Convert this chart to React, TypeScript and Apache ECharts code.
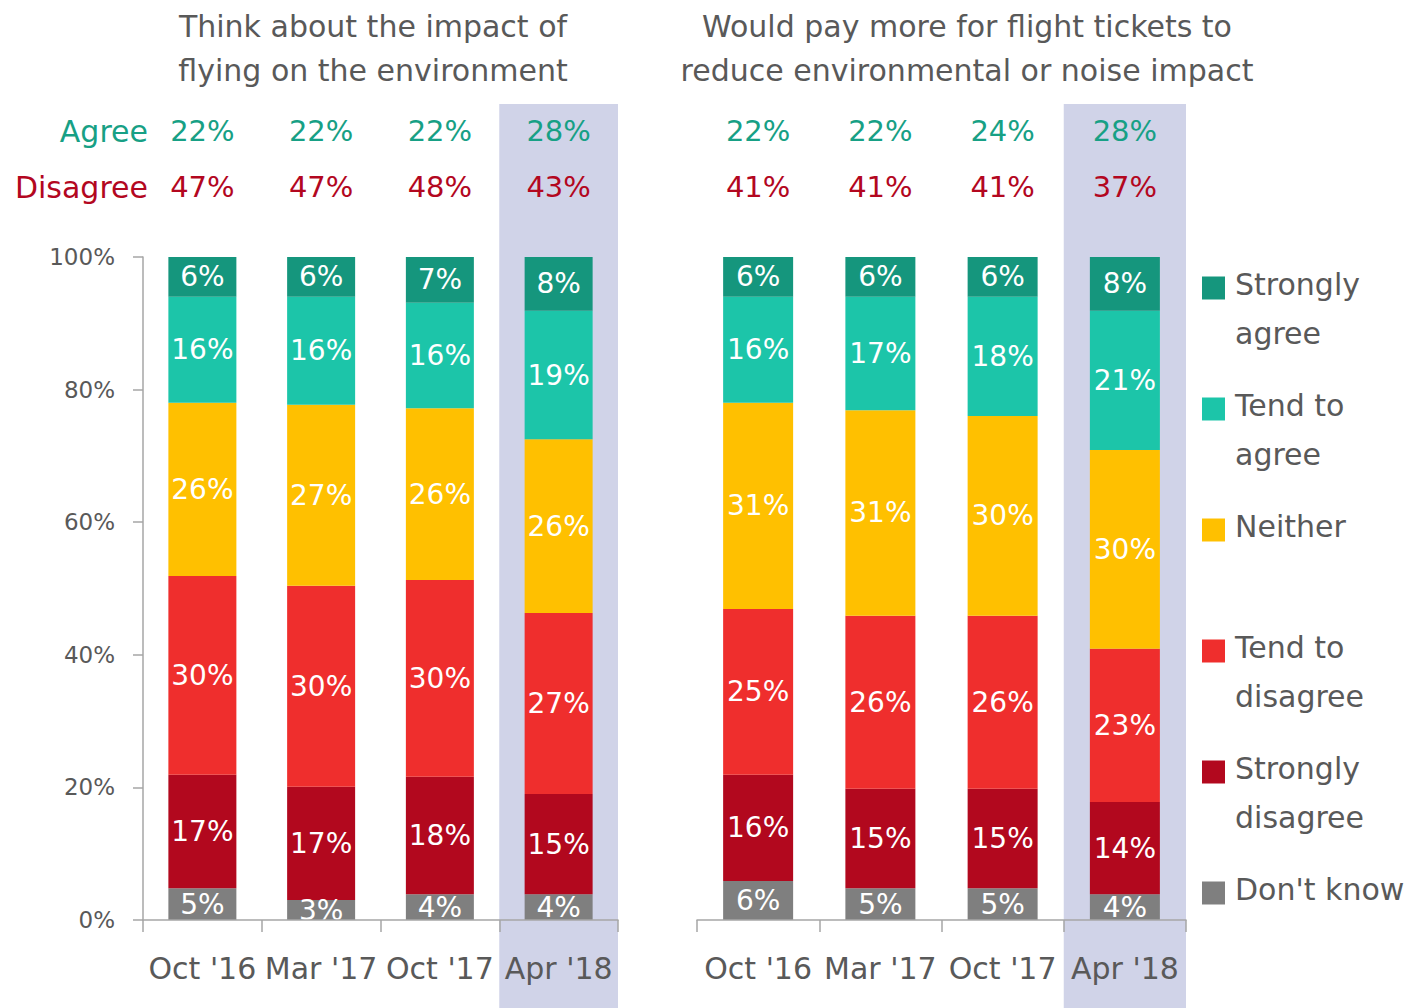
import React, { useEffect, useRef } from 'react';
import * as echarts from 'echarts';

const categories = ["Oct '16", "Mar '17", "Oct '17", "Apr '18"];
const highlightCategory = "Apr '18";

// bottom-to-top stacking order
const seriesNames = ["Don't know", 'Strongly disagree', 'Tend to disagree', 'Neither', 'Tend to agree', 'Strongly agree'];
const seriesColors = ['#7f7f7f', '#b2081e', '#ef2e2d', '#ffc000', '#1cc5a9', '#15967d'];
// legend order top-to-bottom with display text
const legendOrder = ['Strongly agree', 'Tend to agree', 'Neither', 'Tend to disagree', 'Strongly disagree', "Don't know"];
const legendText = ['Strongly\nagree', 'Tend to\nagree', 'Neither', 'Tend to\ndisagree', 'Strongly\ndisagree', "Don't know"];

const leftTitle = 'Think about the impact of\nflying on the environment';
const rightTitle = 'Would pay more for flight tickets to\nreduce environmental or noise impact';

// Left panel values (%), per category
const leftDontKnow = [4.8, 3.0, 3.9, 3.9];
const leftStronglyDisagree = [17.1, 17.1, 17.7, 15.1];
const leftTendDisagree = [30.0, 30.3, 29.7, 27.3];
const leftNeither = [26.1, 27.3, 25.9, 26.2];
const leftTendAgree = [16.0, 16.3, 15.9, 19.4];
const leftStronglyAgree = [6.0, 6.0, 6.9, 8.1];

// Right panel values (%)
const rightDontKnow = [5.9, 4.8, 4.8, 3.9];
const rightStronglyDisagree = [16.0, 15.0, 15.0, 13.9];
const rightTendDisagree = [25.0, 26.1, 26.1, 23.1];
const rightNeither = [31.1, 31.0, 30.1, 30.0];
const rightTendAgree = [16.0, 17.1, 18.0, 21.0];
const rightStronglyAgree = [6.0, 6.0, 6.0, 8.1];

const leftAgree = [22, 22, 22, 28];
const leftDisagree = [47, 47, 48, 43];
const rightAgree = [22, 22, 24, 28];
const rightDisagree = [41, 41, 41, 37];

const yTicks = [0, 20, 40, 60, 80, 100];

const FONT = '"DejaVu Sans", Verdana, sans-serif';
const GREY = '#595959';
const AXIS = '#a6a6a6';
const AGREE_C = '#17a085';
const DISAGREE_C = '#b3071f';
const BAND = '#d0d3e8';

export default function App() {
  const ref = useRef<HTMLDivElement>(null);
  useEffect(() => {
    document.body.style.margin = '0';
    const chart = echarts.init(ref.current!, undefined, { renderer: 'svg' });
    const leftData = [leftDontKnow, leftStronglyDisagree, leftTendDisagree, leftNeither, leftTendAgree, leftStronglyAgree];
    const rightData = [rightDontKnow, rightStronglyDisagree, rightTendDisagree, rightNeither, rightTendAgree, rightStronglyAgree];

    const mk = (data: number[], i: number, idx: number, stack: string, bw: number) => ({
      type: 'bar',
      name: seriesNames[i],
      xAxisIndex: idx,
      yAxisIndex: idx,
      stack,
      barWidth: bw,
      z: 3,
      data,
      itemStyle: { color: seriesColors[i] },
      label: {
        show: true,
        position: 'inside',
        color: '#ffffff',
        fontSize: 28,
        fontFamily: FONT,
        formatter: (p: any) => Math.round(p.value) + '%',
      },
    });

    const series: any[] = [];
    leftData.forEach((d, i) => series.push(mk(d, i, 0, 'L', 68)));
    rightData.forEach((d, i) => series.push(mk(d, i, 1, 'R', 70)));

    const xAxisBase = (gridIndex: number) => ({
      type: 'category',
      gridIndex,
      data: categories,
      axisLine: { show: true, lineStyle: { color: AXIS, width: 1.5 } },
      axisTick: { show: true, length: 12, lineStyle: { color: AXIS, width: 1.5 } },
      axisLabel: { color: GREY, fontSize: 30, fontFamily: FONT, margin: 33, interval: 0 },
      z: 4,
    });

    chart.setOption({
      animation: false,
      grid: [
        { left: 143, right: 1411 - 618, top: 257, bottom: 1008 - 920 },
        { left: 697, right: 1411 - 1186, top: 257, bottom: 1008 - 920 },
      ],
      xAxis: [xAxisBase(0), xAxisBase(1)],
      yAxis: [
        {
          type: 'value', gridIndex: 0, min: yTicks[0], max: yTicks[yTicks.length - 1], interval: 20,
          axisLine: { show: true, lineStyle: { color: AXIS, width: 1.5 } },
          axisTick: { show: true, length: 10, lineStyle: { color: AXIS, width: 1.5 } },
          splitLine: { show: false },
          axisLabel: { color: GREY, fontSize: 23, fontFamily: FONT, margin: 28, formatter: '{value}%' },
        },
        { type: 'value', gridIndex: 1, min: 0, max: 100, interval: 20, show: false, splitLine: { show: false } },
      ],
      series,
    });

    const graphic: any[] = [];
    const panels = [
      { idx: 0, agree: leftAgree, disagree: leftDisagree, title: leftTitle, titleX: 373, showLabels: true },
      { idx: 1, agree: rightAgree, disagree: rightDisagree, title: rightTitle, titleX: 967, showLabels: false },
    ];
    panels.forEach((p) => {
      const xs = categories.map((c) => chart.convertToPixel({ xAxisIndex: p.idx } as any, c) as unknown as number);
      const step = xs[1] - xs[0];
      const hi = categories.indexOf(highlightCategory);
      graphic.push({
        type: 'rect', z: -10, silent: true,
        shape: { x: xs[hi] - step / 2, y: 104, width: step, height: 1008 - 104 },
        style: { fill: BAND },
      });
      graphic.push({
        type: 'text', x: p.titleX, y: 48, z: 10,
        style: { text: p.title, fontSize: 30, fontFamily: FONT, fill: GREY, align: 'center', verticalAlign: 'middle', lineHeight: 44 },
      });
      xs.forEach((x, i) => {
        graphic.push({
          type: 'text', x, y: 131, z: 10,
          style: { text: p.agree[i] + '%', fontSize: 29, fontFamily: FONT, fill: AGREE_C, align: 'center', verticalAlign: 'middle' },
        });
        graphic.push({
          type: 'text', x, y: 187, z: 10,
          style: { text: p.disagree[i] + '%', fontSize: 29, fontFamily: FONT, fill: DISAGREE_C, align: 'center', verticalAlign: 'middle' },
        });
      });
      if (p.showLabels) {
        graphic.push({
          type: 'text', x: 148, y: 131, z: 10,
          style: { text: 'Agree', fontSize: 30, fontFamily: FONT, fill: AGREE_C, align: 'right', verticalAlign: 'middle' },
        });
        graphic.push({
          type: 'text', x: 148, y: 187, z: 10,
          style: { text: 'Disagree', fontSize: 30, fontFamily: FONT, fill: DISAGREE_C, align: 'right', verticalAlign: 'middle' },
        });
      }
    });

    legendOrder.forEach((name, i) => {
      const c = seriesColors[seriesNames.indexOf(name)];
      const y = 288 + i * 121;
      graphic.push({
        type: 'rect', z: 10,
        shape: { x: 1202, y: y - 11.5, width: 23, height: 23 },
        style: { fill: c },
      });
      graphic.push({
        type: 'text', x: 1235, y: y - 4 - 24, z: 10,
        style: { text: legendText[i], fontSize: 30, fontFamily: FONT, fill: GREY, align: 'left', verticalAlign: 'top', lineHeight: 49 },
      });
    });

    chart.setOption({ graphic });
    return () => chart.dispose();
  }, []);
  return <div ref={ref} style={{ width: 1411, height: 1008 }} />;
}
